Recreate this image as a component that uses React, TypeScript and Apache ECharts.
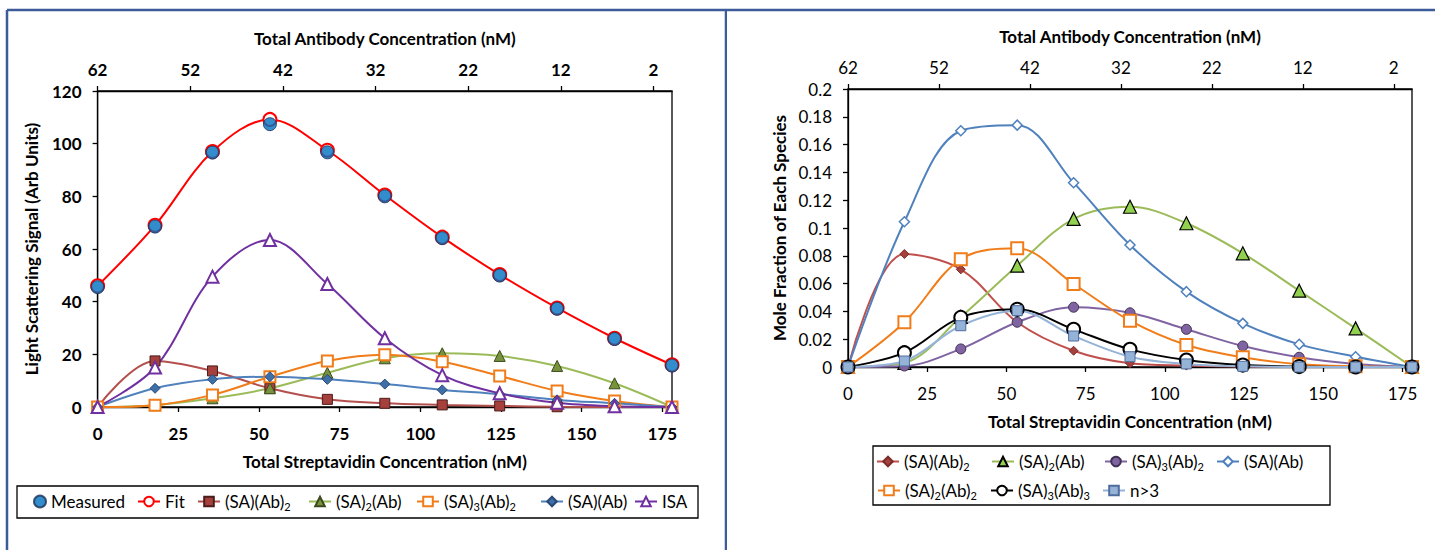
import React, { useEffect, useRef } from "react";
import * as echarts from "echarts";

const FONT = 'Lato, "Liberation Sans", sans-serif';

// Total streptavidin concentration (nM) for each sample
const xVals = [0, 17.8, 35.6, 53.4, 71.2, 89, 106.8, 124.6, 142.4, 160.2, 178];
const bottomTicks = [0, 25, 50, 75, 100, 125, 150, 175];
const topTicks = [62, 52, 42, 32, 22, 12, 2];

// Left chart: light scattering signal
const measured = [45.5, 68.5, 96.6, 107.4, 96.7, 80.0, 64.1, 49.9, 37.3, 25.8, 15.7];
const fit = [46, 69, 97, 109.2, 97.5, 80.5, 64.5, 50.3, 37.6, 26.1, 16];
const lSaAb2 = [0, 17.5, 13.7, 7.1, 2.9, 1.4, 0.8, 0.4, 0.1, 0, 0];
const lSa2Ab = [0, 0.7, 3.3, 7.1, 13.0, 18.5, 20.4, 19.4, 15.6, 9.0, 0];
const lSa3Ab2 = [0, 0.7, 4.6, 11.5, 17.5, 19.8, 17.2, 11.8, 6.1, 2.3, 0];
const lSaAb = [0, 7.1, 10.5, 11.5, 10.5, 8.7, 6.5, 4.9, 2.7, 1.4, 0];
const isa = [0, 15, 49.5, 63.4, 46.7, 26.1, 12.1, 5.2, 1.6, 0.3, 0];

// Right chart: mole fraction of each species
const rSaAb2 = [0, 0.0813, 0.0703, 0.0322, 0.0117, 0.0027, 0.001, 0.0003, 0, 0, 0];
const rSa2Ab = [0, 0.003, 0.036, 0.0729, 0.1065, 0.1153, 0.1034, 0.0818, 0.0549, 0.0278, 0];
const rSa3Ab2 = [0, 0.0007, 0.013, 0.0322, 0.043, 0.039, 0.0271, 0.0151, 0.007, 0.0022, 0];
const rSaAb = [0, 0.1045, 0.17, 0.174, 0.1326, 0.0878, 0.0542, 0.0314, 0.0163, 0.0074, 0];
const rSa2Ab2 = [0, 0.0322, 0.0775, 0.0854, 0.0597, 0.0333, 0.0158, 0.007, 0.002, 0.0005, 0];
const rSa3Ab3 = [0, 0.0103, 0.0357, 0.0415, 0.0271, 0.0127, 0.005, 0.0014, 0.0003, 0, 0];
const rN3 = [0, 0.0043, 0.0297, 0.0405, 0.0223, 0.0074, 0.0022, 0.0005, 0, 0, 0];

const richNames: Record<string, string> = {
  "(SA)(Ab)2": "(SA)(Ab){s|2}",
  "(SA)2(Ab)": "(SA){s|2}(Ab)",
  "(SA)3(Ab)2": "(SA){s|3}(Ab){s|2}",
  "(SA)2(Ab)2": "(SA){s|2}(Ab){s|2}",
  "(SA)3(Ab)3": "(SA){s|3}(Ab){s|3}",
};

const toPts = (ys: number[]) => xVals.map((x, i) => [x, ys[i]]);

const BORDER = "#3d5b9b";

function lineSeries(
  name: string,
  ys: number[],
  lineColor: string,
  symbol: string,
  size: number,
  fill: string,
  border: string,
  borderWidth: number,
  z = 2
) {
  return {
    type: "line",
    name,
    data: toPts(ys),
    smooth: 0.35,
    symbol,
    symbolSize: size,
    showAllSymbol: true,
    z,
    lineStyle: { color: lineColor, width: 2 },
    itemStyle: { color: fill, borderColor: border, borderWidth },
    emphasis: { disabled: true },
  };
}

function makeAxes(bold: boolean, yCfg: any, yName: string, yGap: number) {
  const lab = { color: "#000", fontFamily: FONT, fontSize: 17, fontWeight: bold ? "bold" : "normal" };
  const nameStyle = { color: "#000", fontFamily: FONT, fontSize: 17, fontWeight: "bold" };
  const line = { show: true, onZero: false, lineStyle: { color: "#000", width: 1.3 } };
  return {
    xAxis: [
      {
        type: "value",
        position: "bottom",
        min: 0,
        max: 178,
        axisLine: line,
        axisTick: { show: true, inside: false, length: 5, customValues: bottomTicks, lineStyle: { color: "#000", width: 1.3 } },
        axisLabel: { ...lab, customValues: bottomTicks, margin: 18 },
        splitLine: { show: false },
        name: "Total Streptavidin Concentration (nM)",
        nameLocation: "middle",
        nameGap: 46,
        nameTextStyle: nameStyle,
      },
      {
        type: "value",
        position: "top",
        min: 0,
        max: 62,
        inverse: true,
        axisLine: line,
        axisTick: { show: true, inside: false, length: 5, customValues: topTicks, lineStyle: { color: "#000", width: 1.3 } },
        axisLabel: { ...lab, customValues: topTicks, margin: 13 },
        splitLine: { show: false },
        name: "Total Antibody Concentration (nM)",
        nameLocation: "middle",
        nameGap: 44,
        nameTextStyle: nameStyle,
      },
    ],
    yAxis: {
      type: "value",
      ...yCfg,
      axisLine: line,
      axisTick: { show: true, inside: false, length: 5, lineStyle: { color: "#000", width: 1.3 } },
      axisLabel: { ...lab, margin: 16, ...(yCfg.labelFmt ? { formatter: yCfg.labelFmt } : {}) },
      splitLine: { show: false },
      name: yName,
      nameLocation: "middle",
      nameGap: yGap,
      nameTextStyle: nameStyle,
    },
  };
}

function legendItems(items: { name: string; x: number; y: number; w: number }[]) {
  return items.map((it) => ({
    data: [it.name],
    left: it.x,
    top: it.y,
    itemWidth: it.w,
    itemHeight: 12,
    itemGap: 0,
    padding: 0,
    selectedMode: false,
    formatter: (n: string) => richNames[n] || n,
    textStyle: {
      color: "#000",
      fontFamily: FONT,
      fontSize: 17,
      rich: { s: { fontSize: 11, fontFamily: FONT, color: "#000", padding: [10, 0, 0, 0] } },
    },
  }));
}

function Chart({ option, left, width }: { option: any; left: number; width: number }) {
  const ref = useRef<HTMLDivElement>(null);
  useEffect(() => {
    if (!ref.current) return;
    const chart = echarts.init(ref.current, null, { renderer: "svg" });
    chart.setOption(option);
    return () => chart.dispose();
  }, []);
  return <div ref={ref} style={{ position: "absolute", left, top: 0, width, height: 550 }} />;
}

const leftOption = {
  animation: false,
  backgroundColor: "#fff",
  textStyle: { fontFamily: FONT },
  grid: { left: 97.6, top: 91, width: 574.4, height: 316, show: true, borderColor: "#000", borderWidth: 1.3, backgroundColor: "transparent" },
  ...makeAxes(true, { min: 0, max: 120, interval: 20 }, "Light Scattering Signal (Arb Units)", 58),
  series: [
    lineSeries("Fit", fit, "#ff0000", "circle", 13, "#fff", "#ff0000", 2, 3),
    {
      type: "scatter",
      name: "Measured",
      data: toPts(measured),
      symbol: "circle",
      symbolSize: 13,
      z: 5,
      itemStyle: { color: "#0070c0", borderColor: "#1a2f55", borderWidth: 1 },
      emphasis: { disabled: true },
    },
    lineSeries("(SA)(Ab)2", lSaAb2, "#b3504d", "rect", 10, "#a5403c", "#4a1c1a", 1),
    lineSeries("(SA)2(Ab)", lSa2Ab, "#9bbb59", "triangle", 11, "#77933c", "#3b4a1e", 1),
    lineSeries("(SA)3(Ab)2", lSa3Ab2, "#f07d1a", "rect", 11, "#fff", "#f07d1a", 2),
    lineSeries("(SA)(Ab)", lSaAb, "#4f81bd", "diamond", 10, "#3f6fa8", "#2a4a75", 1),
    lineSeries("ISA", isa, "#7030a0", "triangle", 12, "#fff", "#7030a0", 2),
  ],
  legend: legendItems([
    { name: "Measured", x: 33, y: 493, w: 12 },
    { name: "Fit", x: 137, y: 493, w: 22 },
    { name: "(SA)(Ab)2", x: 197, y: 493, w: 22 },
    { name: "(SA)2(Ab)", x: 308, y: 493, w: 22 },
    { name: "(SA)3(Ab)2", x: 416, y: 493, w: 22 },
    { name: "(SA)(Ab)", x: 540, y: 493, w: 22 },
    { name: "ISA", x: 634, y: 493, w: 22 },
  ]),
  graphic: [
    { type: "rect", shape: { x: 17, y: 486, width: 681, height: 32 }, style: { fill: "none", stroke: "#000", lineWidth: 1.3 }, silent: true },
    { type: "line", shape: { x1: 7, y1: 10, x2: 727, y2: 10 }, style: { stroke: BORDER, lineWidth: 2.5 }, silent: true },
    { type: "line", shape: { x1: 7, y1: 10, x2: 7, y2: 550 }, style: { stroke: BORDER, lineWidth: 2.5 }, silent: true },
    { type: "line", shape: { x1: 726, y1: 10, x2: 726, y2: 550 }, style: { stroke: BORDER, lineWidth: 2.5 }, silent: true },
  ],
};

const R = 727; // offset of right chart div
const rightOption = {
  animation: false,
  backgroundColor: "#fff",
  textStyle: { fontFamily: FONT },
  grid: { left: 848 - R, top: 89, width: 564, height: 278, show: true, borderColor: "#000", borderWidth: 1.3, backgroundColor: "transparent" },
  ...makeAxes(false, { min: 0, max: 0.2, interval: 0.02, labelFmt: (v: number) => String(Math.round(v * 100) / 100) }, "Mole Fraction of Each Species", 60),
  series: [
    lineSeries("(SA)(Ab)2", rSaAb2, "#c0504d", "diamond", 9, "#a5403c", "#7a2d2a", 1),
    lineSeries("(SA)2(Ab)", rSa2Ab, "#9bbb59", "triangle", 13, "#92d050", "#000", 1.2),
    lineSeries("(SA)3(Ab)2", rSa3Ab2, "#8064a2", "circle", 10, "#8064a2", "#3f3152", 1),
    lineSeries("(SA)(Ab)", rSaAb, "#4f81bd", "diamond", 10, "#fff", "#4f81bd", 1.5),
    lineSeries("(SA)2(Ab)2", rSa2Ab2, "#f07d1a", "rect", 12, "#fff", "#f07d1a", 2),
    lineSeries("(SA)3(Ab)3", rSa3Ab3, "#000", "circle", 13, "#fff", "#000", 2),
    lineSeries("n>3", rN3, "#95b3d7", "rect", 10, "#95b3d7", "#4f6c9e", 1),
  ],
  legend: legendItems([
    { name: "(SA)(Ab)2", x: 876 - R, y: 453, w: 22 },
    { name: "(SA)2(Ab)", x: 991 - R, y: 453, w: 22 },
    { name: "(SA)3(Ab)2", x: 1104 - R, y: 453, w: 22 },
    { name: "(SA)(Ab)", x: 1216 - R, y: 453, w: 22 },
    { name: "(SA)2(Ab)2", x: 877 - R, y: 482, w: 22 },
    { name: "(SA)3(Ab)3", x: 990 - R, y: 482, w: 22 },
    { name: "n>3", x: 1102 - R, y: 482, w: 22 },
  ]),
  graphic: [
    { type: "rect", shape: { x: 873 - R, y: 446, width: 457, height: 59 }, style: { fill: "none", stroke: "#000", lineWidth: 1.3 }, silent: true },
    { type: "line", shape: { x1: 0, y1: 10, x2: 710, y2: 10 }, style: { stroke: BORDER, lineWidth: 2.5 }, silent: true },
  ],
};

export default function App() {
  return (
    <div style={{ position: "absolute", left: 0, top: 0, width: 1435, height: 550, background: "#fff" }}>
      <Chart option={leftOption} left={0} width={R} />
      <Chart option={rightOption} left={R} width={1435 - R} />
    </div>
  );
}
